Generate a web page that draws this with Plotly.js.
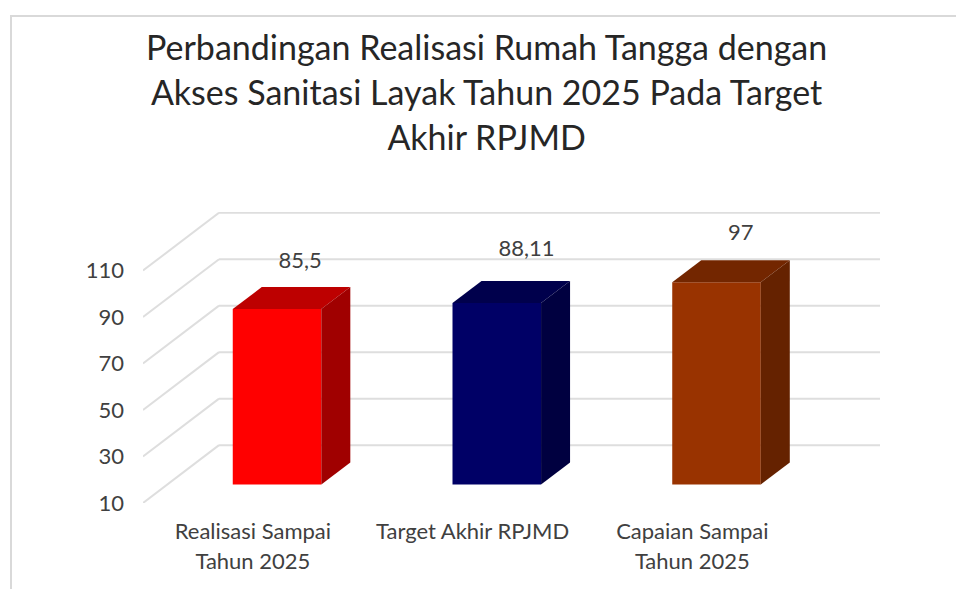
<!DOCTYPE html>
<html>
<head>
<meta charset="utf-8">
<script src="https://cdn.plot.ly/plotly-3.0.1.min.js"></script>
<style>
html,body{margin:0;padding:0;background:#fff;width:956px;height:589px;overflow:hidden}
#chart{position:absolute;left:0;top:0;width:956px;height:589px}
#frame{position:absolute;left:10px;top:15px;right:0;bottom:0;border-left:2px solid #d9d9d9;border-top:2px solid #d9d9d9;pointer-events:none}
</style>
</head>
<body>
<div id="chart"></div>
<div id="frame"></div>
<script>
// Data
var categories = ["Realisasi Sampai<br>Tahun 2025", "Target Akhir RPJMD", "Capaian Sampai<br>Tahun 2025"];
var values = [85.5, 88.11, 97];
var yTicks = [10, 30, 50, 70, 90, 110];
var titleLines = ["Perbandingan Realisasi Rumah Tangga dengan", "Akses Sanitasi Layak Tahun 2025 Pada Target", "Akhir RPJMD"];
var frontColors = ["#ff0000", "#000066", "#993300"];
var topColors = ["#bd0000", "#00004c", "#732600"];
var sideColors = ["#a00000", "#000040", "#652200"];
var labelNudgeX = [0.105, 0.135, 0.11];
var labelNudgeY = [10.7, 13.3, 11.3];

// Oblique projection constants (axis units)
var barW = 0.403, barDepthX = 0.132, barDepthY = 9.46;
var floorX = 0.11, floorY = 7.96;      // bar front plane offset from axis plane
var wallX = 0.346, wallY = 24.9;       // back wall offset from axis plane
var xMin = -0.61, xMax = 2.744, yMin = 10, yMax = 135.2;
var font = "Lato, Carlito, Calibri, sans-serif";
var idx = values.map(function (_, i) { return i; });

var traces = [{
  type: "bar", x: idx, y: values.map(function (v) { return v - yMin; }),
  base: values.map(function () { return yMin + floorY; }),
  width: barW, marker: {color: frontColors, line: {width: 0}},
  hoverinfo: "skip", showlegend: false
}];
idx.forEach(function (i) {
  var v = values[i] + floorY, b = yMin + floorY, l = i - barW / 2, r = i + barW / 2;
  traces.push({
    type: "scatter", mode: "none", fill: "toself", fillcolor: topColors[i],
    x: [l, r, r + barDepthX, l + barDepthX, l], y: [v, v, v + barDepthY, v + barDepthY, v],
    hoverinfo: "skip", showlegend: false
  });
  traces.push({
    type: "scatter", mode: "none", fill: "toself", fillcolor: sideColors[i],
    x: [r, r + barDepthX, r + barDepthX, r, r], y: [b, b + barDepthY, v + barDepthY, v, b],
    hoverinfo: "skip", showlegend: false
  });
});
traces.push({
  type: "scatter", mode: "text",
  x: idx.map(function (i) { return i + labelNudgeX[i]; }),
  y: values.map(function (v, i) { return v + floorY + barDepthY + labelNudgeY[i]; }),
  text: values.map(function (v) { return String(v).replace(".", ","); }),
  textposition: "middle center",
  textfont: {family: font, size: 22, color: "#404040"},
  cliponaxis: false, hoverinfo: "skip", showlegend: false
});

// Wall gridlines and the diagonal floor/side-wall lines
var shapes = [];
yTicks.forEach(function (t) {
  shapes.push({type: "line", layer: "below", xref: "x", yref: "y",
    x0: xMin, y0: t, x1: xMin + wallX, y1: t + wallY, line: {color: "#dedede", width: 2}});
  shapes.push({type: "line", layer: "below", xref: "x", yref: "y",
    x0: xMin + wallX, y0: t + wallY, x1: xMax, y1: t + wallY, line: {color: "#dedede", width: 2}});
});

var layout = {
  width: 956, height: 589,
  margin: {l: 143, r: 76, t: 212, b: 86, pad: 0},
  paper_bgcolor: "#ffffff", plot_bgcolor: "rgba(0,0,0,0)",
  showlegend: false,
  title: {
    text: titleLines.map(function (s) { return '<span style="font-size:34px">' + s + '</span>'; }).join("<br>"),
    font: {family: font, size: 34.6, color: "#262626"},
    x: 0.509, xanchor: "center", y: 0.945, yanchor: "top", pad: {t: 28}
  },
  xaxis: {
    range: [xMin, xMax], showgrid: false, zeroline: false, showline: false,
    tickmode: "array",
    tickvals: idx.map(function (i) { return i - floorX; }),
    ticktext: categories.map(function (c) {
      return c.split("<br>").map(function (s) { return '<span style="font-size:22px">' + s + '</span>'; }).join("<br>");
    }),
    ticks: "", ticklabelstandoff: 12, tickangle: 0,
    tickfont: {family: font, size: 23, color: "#404040"}
  },
  yaxis: {
    range: [yMin, yMax], showgrid: false, zeroline: false, showline: false,
    tickmode: "array", tickvals: yTicks, ticktext: yTicks.map(String),
    ticks: "", ticklabelstandoff: 18,
    tickfont: {family: font, size: 22, color: "#404040"}
  },
  shapes: shapes
};

Plotly.newPlot("chart", traces, layout, {displayModeBar: false, responsive: false});
</script>
</body>
</html>
